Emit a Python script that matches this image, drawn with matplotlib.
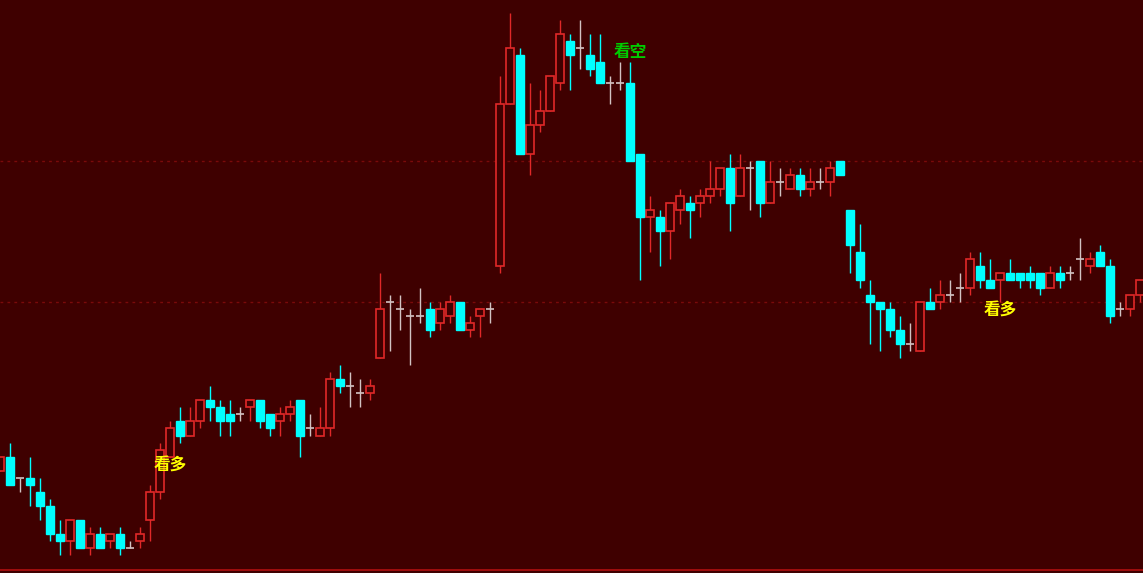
import numpy as np
import matplotlib
matplotlib.use("Agg")
import matplotlib.pyplot as plt

plt.rcParams['font.family'] = ['Noto Sans CJK SC', 'DejaVu Sans']

# price in ticks, one row per bar: open, high, low, close
opens = [12, 14, 11, 11, 9, 7, 3, 2, 5, 1, 3, 2, 3, 1, 2, 5, 9, 14, 19, 17,
         19, 22, 21, 20, 20, 21, 22, 20, 19, 20, 22, 18, 17, 18, 25, 24, 23, 23, 28, 36,
         35, 34, 34, 35, 33, 34, 36, 32, 34, 35, 41, 64, 71, 57, 61, 63, 67, 73, 72, 71,
         70, 67, 67, 67, 57, 48, 48, 46, 49, 50, 50, 51, 52, 55, 51, 55, 56, 50, 53, 52,
         54, 52, 53, 53, 56, 49, 43, 37, 36, 35, 32, 30, 29, 36, 36, 37, 38, 38, 41, 39,
         39, 40, 40, 40, 40, 38, 40, 40, 42, 41, 43, 41, 35, 35, 37]
highs = [14, 16, 11, 14, 11, 8, 5, 5, 5, 4, 4, 3, 4, 2, 4, 10, 16, 19, 21, 21,
         22, 24, 22, 22, 21, 22, 22, 20, 21, 22, 22, 20, 21, 26, 27, 26, 25, 25, 40, 37,
         37, 35, 38, 36, 36, 37, 36, 34, 35, 36, 68, 77, 72, 67, 66, 68, 76, 74, 76, 74,
         74, 68, 70, 70, 57, 51, 49, 50, 52, 51, 52, 56, 55, 57, 57, 56, 56, 56, 55, 55,
         55, 55, 55, 56, 56, 49, 47, 39, 36, 36, 34, 33, 36, 38, 39, 39, 40, 43, 43, 42,
         40, 42, 40, 41, 40, 41, 41, 41, 45, 43, 44, 42, 36, 37, 39]
lows = [12, 10, 9, 7, 5, 2, 0, 0, 1, 0, 1, 1, 0, 1, 1, 2, 8, 14, 16, 17,
        18, 19, 17, 17, 19, 19, 18, 17, 17, 19, 14, 17, 17, 17, 23, 21, 21, 22, 28, 29,
        32, 27, 33, 31, 32, 33, 32, 31, 31, 33, 40, 64, 57, 54, 60, 63, 66, 66, 69, 68,
        67, 64, 66, 56, 39, 43, 41, 42, 47, 45, 48, 50, 51, 46, 51, 49, 48, 50, 51, 52,
        51, 51, 52, 51, 54, 40, 38, 30, 29, 31, 28, 29, 29, 35, 35, 36, 36, 37, 38, 38,
        36, 39, 38, 38, 37, 38, 38, 39, 39, 40, 41, 33, 34, 34, 36]
closes = [14, 10, 11, 10, 7, 3, 2, 5, 1, 3, 1, 3, 1, 1, 3, 9, 15, 18, 17, 19,
          22, 21, 19, 19, 20, 22, 19, 18, 20, 21, 17, 18, 18, 25, 24, 24, 23, 24, 35, 36,
          35, 34, 34, 32, 35, 36, 32, 33, 35, 35, 64, 72, 57, 61, 63, 68, 74, 71, 72, 69,
          67, 67, 67, 56, 48, 49, 46, 50, 51, 49, 51, 52, 55, 50, 55, 55, 50, 53, 53, 54,
          52, 53, 53, 55, 54, 44, 39, 36, 35, 32, 30, 30, 36, 35, 37, 37, 38, 42, 39, 38,
          40, 39, 39, 39, 38, 40, 39, 40, 42, 42, 41, 34, 35, 37, 39]

signal_text = ['看多', '看空', '看多']
signal_bar = [17, 63, 100]
signal_price = [12.8, 71.4, 34.8]
signal_color = ['#FFFF00', '#00CC00', '#FFFF00']

bg = '#3F0000'
up_color = '#E02828'
down_color = '#00FFFF'
doji_color = '#D2C3C3'

o = np.array(opens)
h = np.array(highs)
l = np.array(lows)
c = np.array(closes)
x = np.arange(len(o))

fig = plt.figure(figsize=(11.43, 5.73), dpi=100)
fig.patch.set_facecolor(bg)
ax = fig.add_axes([0, 0, 1, 1])
ax.set_facecolor(bg)

# dotted grid
for lev in [36, 56]:
    ax.axhline(lev, color='#7A0A0A', lw=1, ls=(0, (2, 3)), zorder=1)
ax.axhline(-2.1, color='#B01010', lw=1.2, zorder=1)

up = c > o
down = c < o
doji = c == o
w = 0.8

ax.vlines(x[up], l[up], h[up], color=up_color, lw=1, zorder=2)
ax.vlines(x[down], l[down], h[down], color=down_color, lw=1, zorder=2)
ax.vlines(x[doji], l[doji], h[doji], color=doji_color, lw=1, zorder=2)

ax.bar(x[up], c[up] - o[up], bottom=o[up], width=w, facecolor=bg,
       edgecolor=up_color, linewidth=1.2, zorder=3)
ax.bar(x[down], o[down] - c[down], bottom=c[down], width=w, facecolor=down_color,
       edgecolor=down_color, linewidth=1, zorder=3)
ax.hlines(c[doji], x[doji] - w / 2, x[doji] + w / 2, color=doji_color, lw=1.2, zorder=3)

for t, b, p, col in zip(signal_text, signal_bar, signal_price, signal_color):
    ax.text(b, p, t, color=col, fontsize=12, fontweight='bold',
            ha='center', va='center', zorder=4)

ax.set_xlim(-0.03, 114.27)
ax.set_ylim(-2.51, 78.8)
ax.axis('off')

fig.savefig('out.png', dpi=100, facecolor=bg)
